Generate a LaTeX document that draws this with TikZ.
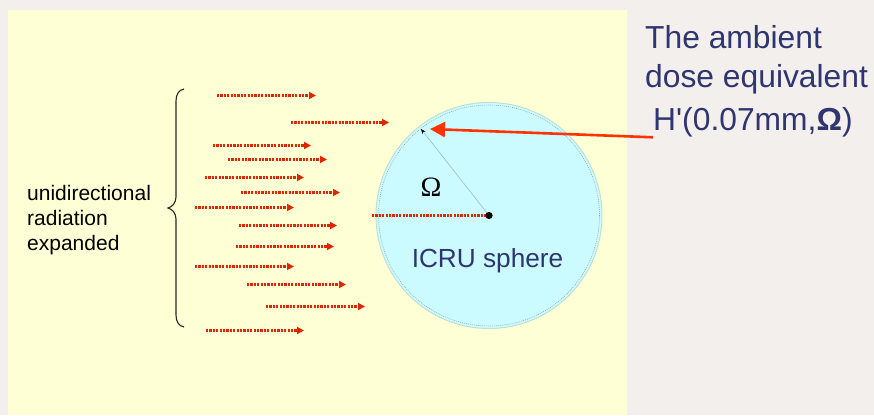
\documentclass[tikz,border=0pt]{standalone}
\usepackage{fontspec}
\setmainfont{Liberation Sans}
\newfontfamily\omegafont{Liberation Serif}
\usetikzlibrary{arrows.meta}
\definecolor{bg}{HTML}{F3EFED}
\definecolor{pane}{HTML}{FFFFD6}
\definecolor{sky}{HTML}{CCFBFF}
\definecolor{rim}{HTML}{BCE2D8}
\definecolor{raycol}{HTML}{E02600}
\definecolor{navy}{HTML}{2E3570}
\definecolor{hot}{HTML}{FF3300}
\definecolor{radcol}{HTML}{9DBCC4}
\definecolor{innercol}{HTML}{8C9CA4}
\tikzset{
  rayplain/.style={draw=raycol, line width=2.1pt, dash pattern=on 2.1pt off 1.3pt},
  rayline/.style={rayplain,
    -{Triangle[length=7pt,width=7pt,sep=0pt]}},
  bigtext/.style={font=\fontsize{31.8}{38}\selectfont, text=navy, inner sep=0pt, anchor=base west},
  pointer/.style={draw=hot, line width=2.6pt, -{Triangle[length=15pt,width=15pt]}},
}
\begin{document}
\begin{tikzpicture}[x=1pt,y=-1pt]
\useasboundingbox (0,0) rectangle (874,415);
\fill[bg] (0,0) rectangle (874,415);
\fill[pane] (8,10) rectangle (627,415);
% sphere
\node[circle, fill=sky, draw=rim, line width=1pt, minimum size=226pt, inner sep=0pt] (sphere) at (489,215.5) {};
\draw[innercol, line width=0.6pt, dash pattern=on 0.8pt off 1.2pt] (sphere.center) circle (110.5);
% radius and label
\coordinate (rtip) at (421,129);
\draw[draw=radcol, line width=0.6pt, -{Stealth[length=5pt,width=4pt,black]}] (sphere.center) -- (rtip);
\node[font=\omegafont\fontsize{28}{30}\selectfont, inner sep=0pt] (omega) at (431,187) {Ω};
\node[font=\fontsize{26.2}{30}\selectfont, text=navy, inner sep=0pt, anchor=base] (icru) at (487.5,267) {ICRU sphere};
% incident ray into the centre
\coordinate (rin) at (372,215.5);
\draw[rayplain] (rin) -- (sphere.center);
\fill[black] (sphere.center) circle (3.6);
% rays
\foreach \i/\xa/\xb/\yy in {1/217/316/95, 2/291/389/122, 3/213/311/145, 4/228/327/159,
  5/205/304/177, 6/241/340/192, 7/195/294/207, 8/239/337/225, 9/236/334/246,
  10/195/294/266, 11/247/346/284, 12/266/365/306, 13/206/304/330}{
  \coordinate (s\i) at (\xa,\yy+0.5);
  \coordinate (e\i) at (\xb,\yy+0.5);
  \draw[rayline] (s\i) -- (e\i);
}
% brace
\coordinate (btop) at (184,89);
\coordinate (bmid) at (168,208);
\coordinate (bbot) at (184,327);
\draw[line width=1.1pt, black!85]
  (btop) .. controls (179,90) and (176,94) .. (176,101)
  -- (176,197) .. controls (176,203) and (172,207) .. (bmid)
  .. controls (172,209) and (176,213) .. (176,219)
  -- (176,315) .. controls (176,322) and (179,326) .. (bbot);
% left label
\node[font=\fontsize{21}{25}\selectfont, align=left, anchor=west, inner sep=0pt] (lbl) at (27,220)
  {unidirectional\\radiation\\expanded};
% right text
\node[bigtext] (t1) at (645,48) {The ambient};
\node[bigtext] (t2) at (645,87) {dose equivalent};
\node[bigtext] (t3) at (653,130) {H\textquotesingle(0.07mm,\textbf{Ω})};
\coordinate (ptip) at (430,129);
\draw[pointer] ([yshift=-0.5pt]t3.south west) -- (ptip);
\end{tikzpicture}
\end{document}
